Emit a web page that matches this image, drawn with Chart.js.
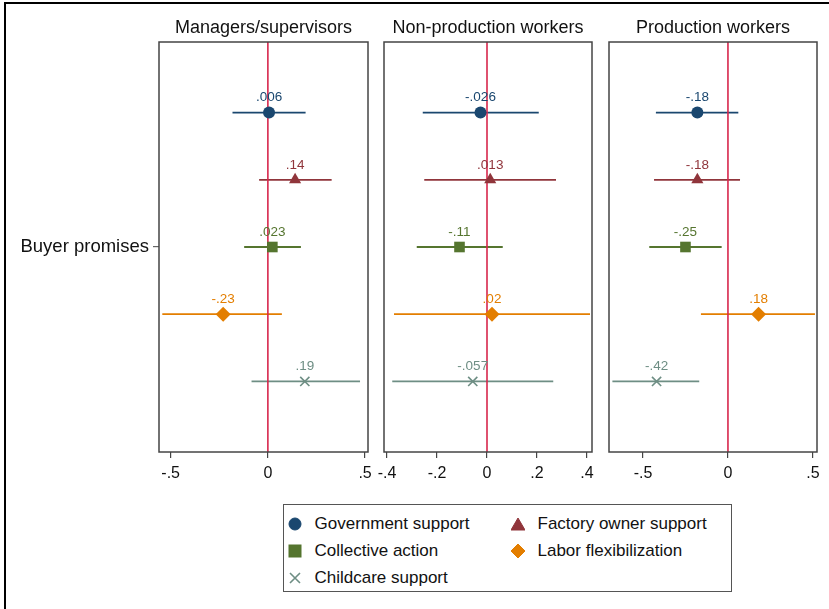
<!DOCTYPE html>
<html>
<head>
<meta charset="utf-8">
<script src="https://cdn.jsdelivr.net/npm/chart.js@4.4.1/dist/chart.umd.min.js"></script>
<style>
    html, body { margin: 0; padding: 0; background: #fff; overflow: hidden; }
    #wrap { position: relative; width: 829px; height: 609px; background: #fff; font-family: "Liberation Sans", Arial, sans-serif; }
    #frame { position: absolute; left: 4px; top: 2px; width: 900px; height: 700px; border-left: 2px solid #000; border-top: 2px solid #000; }
    canvas { position: absolute; top: 0; }
    #legend { position: absolute; left: 283px; top: 504px; width: 447px; height: 86px; border: 1.5px solid #555; }
    .item { position: absolute; font-size: 17px; color: #111; line-height: 20px; white-space: nowrap; }
    .item svg { position: absolute; left: -27px; top: 3px; }
</style>
</head>
<body>
<div id="wrap">
    <div id="frame"></div>
    <canvas id="p1" width="388" height="495" style="left:0px"></canvas>
    <canvas id="p2" width="248" height="495" style="left:364px"></canvas>
    <canvas id="p3" width="240" height="495" style="left:589px"></canvas>
    <div id="legend"></div>
</div>
<script>
(function () {
    'use strict';

    const categories = ['Government support', 'Factory owner support', 'Collective action', 'Labor flexibilization', 'Childcare support'];
    const rowLabel = 'Buyer promises';
    const panelTitles = ['Managers/supervisors', 'Non-production workers', 'Production workers'];

    const managersEst = [0.006, 0.14, 0.023, -0.23, 0.19];
    const managersLo = [-0.182, -0.045, -0.122, -0.543, -0.084];
    const managersHi = [0.194, 0.328, 0.170, 0.072, 0.474];
    const managersTicks = [-0.5, 0, 0.5];

    const nonprodEst = [-0.026, 0.013, -0.11, 0.02, -0.057];
    const nonprodLo = [-0.257, -0.251, -0.281, -0.372, -0.379];
    const nonprodHi = [0.207, 0.276, 0.063, 0.412, 0.265];
    const nonprodTicks = [-0.4, -0.2, 0, 0.2, 0.4];

    const prodEst = [-0.18, -0.18, -0.25, 0.18, -0.42];
    const prodLo = [-0.424, -0.435, -0.463, -0.159, -0.680];
    const prodHi = [0.061, 0.071, -0.037, 0.512, -0.169];
    const prodTicks = [-0.5, 0, 0.5];

    const colors = ['#1a476f', '#90353b', '#55752f', '#e37e00', '#6e8e84'];
    const styles = ['circle', 'triangle', 'rect', 'rectRot', 'crossRot'];
    const radii = [6, 7, 7.5, 7.5, 6.5];
    const zeroColor = '#d7264c';
    const FONT = '"Liberation Sans", Arial, sans-serif';

    function fmt(v) {
        if (v === 0) {
            return '0';
        }
        return String(v).replace('0.', '.');
    }

    const panelPlugin = {
        id: 'panel',
        beforeDatasetsDraw: function (chart) {
            const ctx = chart.ctx;
            const a = chart.chartArea;
            const x = chart.scales.x;
            const y = chart.scales.y;
            const p = chart.options.plugins.panel;
            ctx.save();
            ctx.lineWidth = 1.8;
            p.lo.forEach(function (lo, i) {
                const py = y.getPixelForValue(i + 1);
                ctx.strokeStyle = colors[i];
                ctx.beginPath();
                ctx.moveTo(x.getPixelForValue(lo), py);
                ctx.lineTo(x.getPixelForValue(p.hi[i]), py);
                ctx.stroke();
            });
            const zx = x.getPixelForValue(0);
            ctx.strokeStyle = zeroColor;
            ctx.lineWidth = 1.6;
            ctx.beginPath();
            ctx.moveTo(zx, a.top);
            ctx.lineTo(zx, a.bottom);
            ctx.stroke();
            ctx.restore();
        },
        afterDatasetsDraw: function (chart) {
            const ctx = chart.ctx;
            const a = chart.chartArea;
            const x = chart.scales.x;
            const y = chart.scales.y;
            const p = chart.options.plugins.panel;
            ctx.save();
            ctx.font = '13.5px ' + FONT;
            ctx.textAlign = 'center';
            ctx.textBaseline = 'middle';
            p.est.forEach(function (v, i) {
                ctx.fillStyle = colors[i];
                ctx.fillText(fmt(v), x.getPixelForValue(v), y.getPixelForValue(i + 1) - 15);
            });
            ctx.strokeStyle = '#444';
            ctx.lineWidth = 1.5;
            ctx.strokeRect(a.left, a.top, a.right - a.left, a.bottom - a.top);
            ctx.fillStyle = '#111';
            ctx.font = '18px ' + FONT;
            ctx.fillText(p.title, (a.left + a.right) / 2, 28);
            ctx.restore();
        }
    };

    function makePanel(id, title, est, lo, hi, ticks, range, showY, pad) {
        const datasets = categories.map(function (name, i) {
            return {
                label: name,
                data: [{ x: est[i], y: i + 1 }],
                pointStyle: styles[i],
                pointRadius: radii[i],
                backgroundColor: colors[i],
                borderColor: colors[i],
                borderWidth: styles[i] === 'crossRot' ? 1.6 : 0
            };
        });

        return new Chart(document.getElementById(id), {
            type: 'scatter',
            data: { datasets: datasets },
            plugins: [panelPlugin],
            options: {
                responsive: false,
                animation: false,
                devicePixelRatio: 1,
                layout: { padding: { left: pad[0], right: pad[1], top: 42, bottom: 0 } },
                plugins: {
                    legend: { display: false },
                    tooltip: { enabled: false },
                    panel: { title: title, est: est, lo: lo, hi: hi }
                },
                scales: {
                    x: {
                        type: 'linear',
                        min: range[0],
                        max: range[1],
                        afterBuildTicks: function (scale) {
                            scale.ticks = ticks.map(function (v) { return { value: v }; });
                        },
                        afterFit: function (scale) { scale.height = 43; },
                        grid: { drawOnChartArea: false, tickLength: 6, color: '#444', lineWidth: 1.2 },
                        border: { display: false },
                        ticks: {
                            autoSkip: false,
                            maxRotation: 0,
                            padding: 6,
                            color: '#111',
                            font: { size: 16, family: FONT },
                            callback: function (v) { return fmt(v); }
                        }
                    },
                    y: {
                        type: 'linear',
                        display: showY,
                        min: -0.05,
                        max: 6.05,
                        reverse: true,
                        afterBuildTicks: function (scale) { scale.ticks = [{ value: 3 }]; },
                        afterFit: function (scale) { scale.width = showY ? 159 : 0; },
                        grid: { drawOnChartArea: false, tickLength: 6, color: '#666', lineWidth: 1.2 },
                        border: { display: false },
                        ticks: {
                            padding: 4,
                            color: '#111',
                            font: { size: 18.5, family: FONT },
                            callback: function () { return rowLabel; }
                        }
                    }
                }
            }
        });
    }

    function renderLegend() {
        const shapes = [
            '<circle cx="7" cy="7" r="6"/>',
            '<polygon points="7,1 14,13 0,13"/>',
            '<rect x="1" y="1" width="12" height="12"/>',
            '<polygon points="7,0 14,7 7,14 0,7"/>',
            '<path d="M2,2 L12,12 M12,2 L2,12" fill="none" stroke-width="1.6"/>'
        ];
        const pos = [[30.5, 9], [253.5, 9], [30.5, 36], [253.5, 36], [30.5, 63]];
        const legend = document.getElementById('legend');
        categories.forEach(function (name, i) {
            const el = document.createElement('div');
            el.className = 'item';
            el.style.left = pos[i][0] + 'px';
            el.style.top = pos[i][1] + 'px';
            el.innerHTML = '<svg width="14" height="14" fill="' + colors[i] + '" stroke="' + colors[i] + '">' +
                shapes[i] + '</svg>';
            el.appendChild(document.createTextNode(name));
            legend.appendChild(el);
        });
    }

    makePanel('p1', panelTitles[0], managersEst, managersLo, managersHi, managersTicks, [-0.56, 0.515], true, [0, 20]);
    makePanel('p2', panelTitles[1], nonprodEst, nonprodLo, nonprodHi, nonprodTicks, [-0.412, 0.42], false, [20, 20]);
    makePanel('p3', panelTitles[2], prodEst, prodLo, prodHi, prodTicks, [-0.70, 0.524], false, [20, 12]);
    renderLegend();
})();
</script>
</body>
</html>
